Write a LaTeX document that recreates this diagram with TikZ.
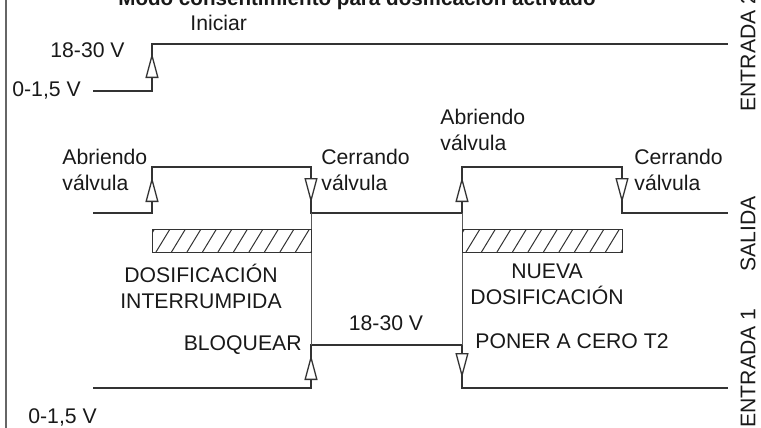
\documentclass[tikz,border=0pt]{standalone}
\usepackage{fontspec}
\setmainfont{Liberation Sans}
\usetikzlibrary{arrows.meta}

\begin{document}
\begin{tikzpicture}[x=0.5pt,y=-0.5pt,
every node/.style={inner sep=0pt,text=black!90,font=\fontsize{10.6}{13}\selectfont},
signal/.style={draw=black!80,line width=0.65pt},
flank/.style={signal,-{Triangle[length=12.5pt,width=6.5pt,fill=white]}},
marker/.style={draw=black!65,line width=0.4pt},
hatch/.style={draw=black!80,line width=0.5pt},
sidelabel/.style={rotate=90}]

\path[use as bounding box,clip] (0,0) rectangle (761,428);

%frame on the left
\coordinate (f0) at (6,0);
\coordinate (f1) at (6,428);
\draw[draw=black!60,line width=1pt] (f0) -- (f1);

%title, only its lower part is on the page
\node[anchor=base,font=\bfseries\fontsize{10.3}{12}\selectfont] (titulo) at (357,5) {Modo consentimiento para dosificación activado};

%entrada 2
\coordinate (e0) at (93,91);
\coordinate (e1) at (152,91);
\coordinate (e2) at (152,44);
\coordinate (e3) at (728,44);
\coordinate (e1t) at (152,53);
\draw[signal] (e0) -- (e1) -- (e2) -- (e3);

%salida
\coordinate (s0) at (93,213);
\coordinate (s1) at (152,213);
\coordinate (s2) at (152,167);
\coordinate (s3) at (311,167);
\coordinate (s4) at (311,213);
\coordinate (s5) at (462,213);
\coordinate (s6) at (462,167);
\coordinate (s7) at (622,167);
\coordinate (s8) at (622,213);
\coordinate (s9) at (728,213);
\coordinate (s1t) at (152,177);
\coordinate (s3t) at (311,203);
\coordinate (s5t) at (462,177);
\coordinate (s7t) at (622,203);
\draw[signal] (s0) -- (s1) -- (s2) -- (s3) -- (s4) -- (s5) -- (s6) -- (s7) -- (s8) -- (s9);

%entrada 1
\coordinate (n0) at (93,388);
\coordinate (n1) at (311,388);
\coordinate (n2) at (311,345);
\coordinate (n3) at (462,345);
\coordinate (n4) at (462,388);
\coordinate (n5) at (728,388);
\coordinate (n1t) at (311,355);
\coordinate (n4t) at (462,378);
\draw[signal] (n0) -- (n1) -- (n2) -- (n3) -- (n4) -- (n5);

%thin lines between salida and entrada 1
\draw[marker] (s4) -- (n2);
\draw[marker] (s5) -- (n3);

%arrows on the flanks
\foreach \a/\t in {e1/e1t,s1/s1t,s3/s3t,s5/s5t,s7/s7t,n1/n1t,n3/n4t}
	\draw[flank] (\a) -- (\t);

%hatched bars
\foreach \xa/\xb [count=\i] in {152/311,462/622}{
	\coordinate (bar\i-a) at (\xa,229);
	\coordinate (bar\i-b) at (\xb,252);
	\begin{scope}
		\clip (bar\i-a) rectangle (bar\i-b);
		\foreach \k in {-1,...,11}
			\draw[hatch] ({\xa+4+15.5*\k},252) -- ++(14,-23);
	\end{scope}
	\draw[hatch] (bar\i-a) rectangle (bar\i-b);
}

%texts (base of a two line node is its last line)
\node[anchor=base west] (iniciar) at (190,31) {Iniciar};
\node[anchor=base west] (alto2) at (50,57) {18-30 V};
\node[anchor=base west] (bajo2) at (12,97) {0-1,5 V};
\node[anchor=base west,align=left] (abre1) at (62,190) {Abriendo\\válvula};
\node[anchor=base west,align=left] (cierra1) at (321,190) {Cerrando\\válvula};
\node[anchor=base west,align=left] (abre2) at (440,150) {Abriendo\\válvula};
\node[anchor=base west,align=left] (cierra2) at (634,190) {Cerrando\\válvula};
\node[anchor=base,align=center] (interr) at (201,308) {DOSIFICACIÓN\\INTERRUMPIDA};
\node[anchor=base,align=center] (nueva) at (547,304) {NUEVA\\DOSIFICACIÓN};
\node[anchor=base east] (bloq) at (302,350) {BLOQUEAR};
\node[anchor=base] (alto1) at (386,330) {18-30 V};
\node[anchor=base west] (poner) at (475,348) {PONER A CERO T2};
\node[anchor=base west] (bajo1) at (28,423) {0-1,5 V};

%names of the signals
\node[sidelabel] (lbl-e2) at (748,52) {ENTRADA 2};
\node[sidelabel] (lbl-s) at (748,234) {SALIDA};
\node[sidelabel] (lbl-e1) at (748,368) {ENTRADA 1};

\end{tikzpicture}
\end{document}
